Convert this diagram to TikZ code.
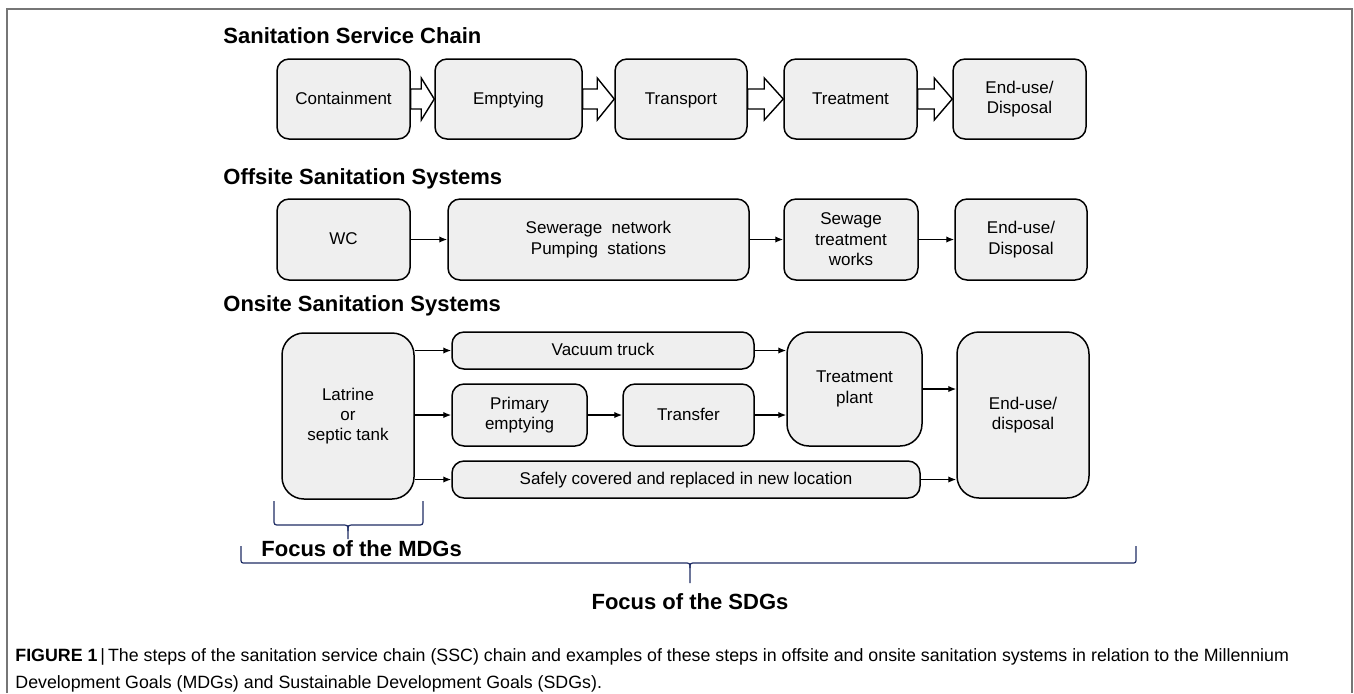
\documentclass[tikz,border=0pt]{standalone}
\usepackage{fontspec}
\setmainfont{Liberation Sans}
\usetikzlibrary{arrows.meta,calc}

\definecolor{boxfill}{RGB}{239,239,239}
\definecolor{bracenavy}{RGB}{30,44,100}
\definecolor{framegray}{RGB}{118,118,118}

\begin{document}
\begin{tikzpicture}[
    x=0.5pt,y=-0.5pt,
    stage/.style={draw,line width=0.75pt,fill=boxfill,rounded corners=6pt,align=center,
        font=\fontsize{8.5}{10.2}\selectfont,inner sep=2pt},
    oneline/.style={text height=0.72em,text depth=0.22em},
    tallstage/.style={stage,rounded corners=11pt},
    heading/.style={font=\fontsize{11}{13}\selectfont\bfseries,anchor=base west,inner sep=0pt},
    focus/.style={font=\fontsize{11}{13}\selectfont\bfseries,anchor=base,inner sep=0pt},
    flow/.style={-{Latex[length=4pt,width=3.2pt]},line width=0.7pt},
    bigflow/.style={draw,line width=0.7pt,fill=white,line join=miter},
    brace/.style={draw=bracenavy,line width=0.6pt}
]
\useasboundingbox (0,0) rectangle (1354,693);
\draw[framegray,line width=1pt] (7,693) -- (7,8.5) -- (1352,8.5) -- (1352,693);

\node[heading] (hchain) at (223,43) {Sanitation Service Chain};
\node[stage,oneline,minimum width=66.5pt,minimum height=40pt] (contain) at (343.5,99) {Containment};
\node[stage,oneline,minimum width=73.5pt,minimum height=40pt] (emptying) at (508.5,99) {Emptying};
\node[stage,oneline,minimum width=66pt,minimum height=40pt] (transport) at (681,99) {Transport};
\node[stage,oneline,minimum width=66.5pt,minimum height=40pt] (treat) at (850.5,99) {Treatment};
\node[stage,minimum width=66.5pt,minimum height=40pt] (enduse) at (1019.5,99) {End-use/\\Disposal};
\foreach \a/\b/\h in {contain/emptying/13,emptying/transport/17,transport/treat/19,treat/enduse/18}
  \draw[bigflow] ($(\a.east)+(0,-10)$) -- ($(\b.west)+(-\h,-10)$) -- ($(\b.west)+(-\h,-21)$)
    -- (\b.west) -- ($(\b.west)+(-\h,21)$) -- ($(\b.west)+(-\h,10)$) -- ($(\a.east)+(0,10)$) -- cycle;

\node[heading] (hoff) at (223,184) {Offsite Sanitation Systems};
\node[stage,oneline,minimum width=66.5pt,minimum height=40.5pt] (wc) at (343.5,239.5) {WC};
\node[stage,minimum width=150.5pt,minimum height=40.5pt] (sewer) at (598.5,239.5) {Sewerage\ \ network\\Pumping\ \ stations};
\node[stage,minimum width=67pt,minimum height=40.5pt] (works) at (851,239.5) {Sewage\\treatment\\works};
\node[stage,minimum width=66pt,minimum height=40.5pt] (offend) at (1021,239.5) {End-use/\\Disposal};
\draw[flow] (wc) -- (sewer);
\draw[flow] (sewer) -- (works);
\draw[flow] (works) -- (offend);

\node[heading] (hon) at (223,311) {Onsite Sanitation Systems};
\node[tallstage,minimum width=66pt,minimum height=83pt] (latrine) at (348,416) {Latrine\\or\\septic tank};
\node[stage,oneline,minimum width=151pt,minimum height=18.5pt] (truck) at (603,350.5) {Vacuum\ truck};
\node[stage,minimum width=67.5pt,minimum height=31pt] (primary) at (519.5,415) {Primary\\emptying};
\node[stage,oneline,minimum width=65.5pt,minimum height=31pt] (transfer) at (688.5,415) {Transfer};
\node[stage,oneline,minimum width=234pt,minimum height=18.5pt] (covered) at (686,479.5) {Safely\ covered\ and\ replaced\ in\ new\ location};
\node[tallstage,minimum width=67.5pt,minimum height=57pt] (plant) at (854.5,389) {Treatment\\plant};
\node[tallstage,minimum width=66pt,minimum height=83pt] (onend) at (1023,415) {End-use/\\disposal};
\draw[flow] (latrine.east |- truck) -- (truck.west);
\draw[flow] (latrine.east |- primary) -- (primary.west);
\draw[flow] (latrine.east |- covered) -- (covered.west);
\draw[flow] (primary) -- (transfer);
\draw[flow] (truck.east) -- (truck.east -| plant.west);
\draw[flow] (transfer.east) -- (transfer.east -| plant.west);
\draw[flow] (plant.east) -- (plant.east -| onend.west);
\draw[flow] (covered.east) -- (covered.east -| onend.west);

\draw[brace] (274,501) -- (274,519) .. controls (274,525) .. (280,525) -- (342,525) .. controls (348,525) .. (348,531) -- (348,539);
\draw[brace] (423,501) -- (423,519) .. controls (423,525) .. (417,525) -- (354,525) .. controls (348,525) .. (348,531);
\node[focus,anchor=base west] (mdg) at (261,556) {Focus of the MDGs};

\draw[brace] (241,546) -- (241,558) .. controls (241,563) .. (246,563) -- (684,563) .. controls (690,563) .. (690,568) -- (690,583);
\draw[brace] (1136,546) -- (1136,558) .. controls (1136,563) .. (1131,563) -- (696,563) .. controls (690,563) .. (690,568);
\node[focus] (sdg) at (690,609) {Focus of the SDGs};

\node[anchor=base west,align=left,inner sep=0pt,font=\fontsize{8.9}{13.5}\selectfont] (caption) at (15,688)
  {\textbf{FIGURE 1}\,|\,The steps of the sanitation service chain (SSC) chain and examples of these steps in offsite and onsite sanitation systems in relation to the Millennium\\
   Development Goals (MDGs) and Sustainable Development Goals (SDGs).};
\end{tikzpicture}
\end{document}
